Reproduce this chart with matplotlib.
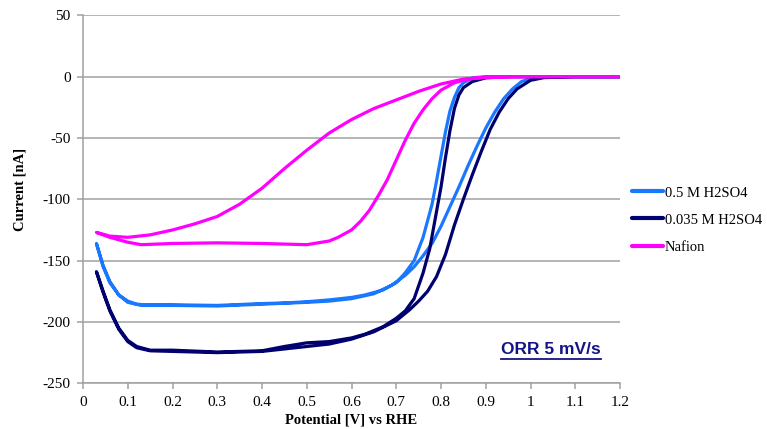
import matplotlib
matplotlib.use("Agg")
import matplotlib.pyplot as plt
from matplotlib.lines import Line2D

# ---------------- data ----------------
# 0.5 M H2SO4 : loop starts at 1.2 V, sweeps down to 0.03 V, and back up
v_05 = [1.20, 1.00, 0.90, 0.87, 0.85, 0.84, 0.83, 0.82, 0.81, 0.80, 0.79, 0.78,
        0.76, 0.74, 0.72, 0.70, 0.67, 0.63, 0.60, 0.55, 0.50, 0.45, 0.40, 0.30,
        0.20, 0.14, 0.12, 0.10, 0.08, 0.06, 0.045, 0.03,
        0.045, 0.06, 0.08, 0.10, 0.13, 0.20, 0.30, 0.40, 0.50, 0.55, 0.60, 0.65,
        0.69, 0.72, 0.74, 0.76, 0.78, 0.80, 0.82, 0.84, 0.86, 0.88, 0.90, 0.92,
        0.94, 0.96, 0.98, 1.00, 1.03, 1.10, 1.20]
i_05 = [0, 0, 0, -1, -5, -9, -17, -28, -45, -65, -85, -104,
        -131, -150, -160, -168, -174, -178, -180, -182, -183.5, -184.5, -185, -186.5,
        -186, -186, -185.5, -183, -178, -168, -155, -136,
        -154, -167, -178, -184, -186.5, -186.5, -187, -185.5, -184, -183, -181, -177,
        -170, -162, -155, -146, -136, -122, -106, -90, -73, -57, -42, -29,
        -18, -10, -4, -1.5, -0.3, 0, 0]

# 0.035 M H2SO4
v_0035 = [1.20, 1.00, 0.95, 0.90, 0.87, 0.85, 0.84, 0.83, 0.82, 0.81, 0.80, 0.79,
          0.775, 0.76, 0.74, 0.72, 0.70, 0.67, 0.63, 0.60, 0.55, 0.50, 0.45, 0.40,
          0.30, 0.20, 0.15, 0.12, 0.10, 0.08, 0.06, 0.045, 0.03,
          0.045, 0.06, 0.08, 0.10, 0.12, 0.15, 0.20, 0.30, 0.40, 0.45, 0.50, 0.55,
          0.60, 0.65, 0.70, 0.73, 0.75, 0.77, 0.79, 0.81, 0.83, 0.85, 0.87, 0.89,
          0.91, 0.93, 0.95, 0.97, 1.00, 1.03, 1.10, 1.20]
i_0035 = [0, 0, 0, -1, -4, -9, -15, -26, -44, -66, -90, -110,
          -140, -160, -181, -191, -197, -204, -210, -213, -216, -217, -220, -223.5,
          -224.5, -223, -223, -220, -215, -205, -190, -175, -159,
          -176, -191, -206, -216, -221, -223.5, -224, -225, -224, -222, -220, -218,
          -214, -208, -199, -190, -183, -175, -163, -145, -121, -100, -80, -61,
          -43, -29, -18, -10, -3, -0.8, 0, 0]

# Nafion
v_naf = [1.20, 1.00, 0.90, 0.85, 0.80, 0.75, 0.70, 0.65, 0.60, 0.55, 0.50, 0.45,
         0.40, 0.35, 0.30, 0.25, 0.20, 0.15, 0.10, 0.06, 0.03,
         0.06, 0.10, 0.13, 0.20, 0.30, 0.40, 0.50, 0.55, 0.57, 0.60, 0.62, 0.64,
         0.66, 0.68, 0.70, 0.72, 0.74, 0.76, 0.78, 0.80, 0.83, 0.86, 0.90, 0.95, 1.20]
i_naf = [0, 0, -0.5, -2, -6, -12, -19, -26, -35, -46, -60, -75,
         -91, -104, -114, -120, -125, -129, -131, -130, -127,
         -131, -135, -137, -136, -135.5, -136, -137, -134, -131, -125, -118, -109,
         -97, -84, -68, -52, -38, -27, -18, -11, -5, -2, -0.5, 0, 0]

series_labels = ["0.5 M H2SO4", "0.035 M H2SO4", "Nafion"]
series_colors = ["#1a78ff", "#00006e", "#ff00ff"]

x_ticks = [0, 0.1, 0.2, 0.3, 0.4, 0.5, 0.6, 0.7, 0.8, 0.9, 1, 1.1, 1.2]
x_ticklabels = ["0", "0.1", "0.2", "0.3", "0.4", "0.5", "0.6", "0.7", "0.8",
                "0.9", "1", "1.1", "1.2"]
y_ticks = [-250, -200, -150, -100, -50, 0, 50]

x_label = "Potential [V] vs RHE"
y_label = "Current [nA]"
annot = "ORR 5 mV/s"

# ---------------- figure ----------------
serif = ["Liberation Serif", "DejaVu Serif"]
fig = plt.figure(figsize=(7.67, 4.29), dpi=100)
ax = fig.add_axes([83 / 767, 1 - 383.3 / 429, (620 - 83) / 767, (383.3 - 15.3) / 429])

for v, i, lab, col in zip([v_05, v_0035, v_naf], [i_05, i_0035, i_naf],
                          series_labels, series_colors):
    ax.plot(v, i, color=col, lw=2.3, label=lab, solid_capstyle="round",
            solid_joinstyle="round", zorder=3)

ax.set_xlim(0, 1.2)
ax.set_ylim(-250, 50)
ax.set_xticks(x_ticks)
ax.set_xticklabels(x_ticklabels)
ax.set_yticks(y_ticks)
ax.set_yticklabels([str(t) for t in y_ticks])

ax.grid(axis="y", color="#a0a0a0", lw=1.1, zorder=0)
ax.set_axisbelow(True)
for s in ["top", "right"]:
    ax.spines[s].set_visible(False)
for s in ["left", "bottom"]:
    ax.spines[s].set_color("#a0a0a0")
    ax.spines[s].set_linewidth(1.1)
ax.tick_params(axis="both", direction="out", length=4, width=1.1, color="#a0a0a0",
               labelsize=11, pad=5)
for lbl in ax.get_xticklabels() + ax.get_yticklabels():
    lbl.set_family(serif)

ax.set_xlabel(x_label, family=serif, fontweight="bold", fontsize=10.5)
ax.set_ylabel(y_label, family=serif, fontweight="bold", fontsize=10.5)
ax.xaxis.set_label_coords(0.5, -0.082)
ax.yaxis.set_label_coords(-0.105, 0.528)

leg = fig.legend(loc="center left", bbox_to_anchor=(632 / 767, 1 - 220 / 429),
                 frameon=False, prop={"family": serif, "size": 10.5},
                 handlelength=2.1, handletextpad=0.15, labelspacing=0.95,
                 borderpad=0, borderaxespad=0)
for h in leg.legend_handles:
    h.set_linewidth(3)

t = ax.text(550.7 / 767, 1 - 350 / 429, annot, transform=fig.transFigure,
            ha="center", va="center", fontsize=12.5, fontweight="bold",
            color="#141486", family=["Liberation Sans", "DejaVu Sans"])

fig.canvas.draw()
bb = t.get_window_extent(fig.canvas.get_renderer())
inv = fig.transFigure.inverted()
(x0, y0), (x1, _) = inv.transform([[bb.x0, bb.y0 - 1], [bb.x1, bb.y0]])
fig.add_artist(Line2D([x0, x1], [y0, y0], transform=fig.transFigure,
                      color="#141486", lw=1.3))

fig.savefig("out.png", dpi=100)
